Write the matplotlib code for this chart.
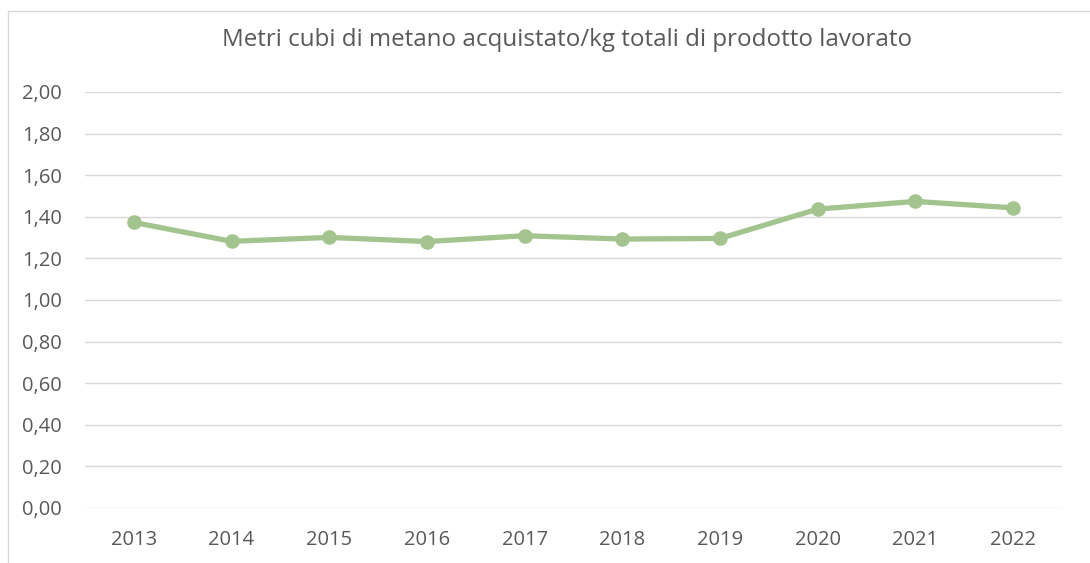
import matplotlib
matplotlib.use("Agg")
import matplotlib.pyplot as plt
from matplotlib.patches import Rectangle

years = ["2013", "2014", "2015", "2016", "2017", "2018", "2019", "2020", "2021", "2022"]
values = [1.373, 1.282, 1.301, 1.281, 1.309, 1.293, 1.296, 1.437, 1.474, 1.443]
yticks = [0.0, 0.2, 0.4, 0.6, 0.8, 1.0, 1.2, 1.4, 1.6, 1.8, 2.0]
title = "Metri cubi di metano acquistato/kg totali di prodotto lavorato"

plt.rcParams['font.family'] = ['Open Sans', 'DejaVu Sans']
W, H = 1090, 563
fig = plt.figure(figsize=(W / 100, H / 100), dpi=100)
fig.patch.set_facecolor("white")

# chart border (extends past right/bottom edges)
fig.add_artist(Rectangle((8 / W, -0.1), 1.2, 1.1 - 11 / H, transform=fig.transFigure,
                         fill=False, edgecolor="#D9D9D9", linewidth=1.0))

ax = fig.add_axes([85 / W, 1 - 508 / H, (1062 - 85) / W, (508 - 92) / H])
x = list(range(len(years)))
ax.plot(x, values, color="#A3C48F", linewidth=3.8, marker="o", markersize=9.5,
        solid_capstyle="round", zorder=3)
ax.set_xlim(-0.5, len(years) - 0.5)
ax.set_ylim(0, 2.0)
ax.set_yticks(yticks)
ax.set_yticklabels([f"{v:.2f}".replace(".", ",") for v in yticks])
ax.set_xticks(x)
ax.set_xticklabels(years)
ax.grid(axis="y", color="#D9D9D9", linewidth=1.0)
ax.set_axisbelow(True)
for s in ax.spines.values():
    s.set_visible(False)
ax.tick_params(length=0, colors="#595959", labelsize=14.5)
ax.tick_params(axis="y", pad=16.5)
ax.tick_params(axis="x", pad=16)

fig.text(567 / W, 1 - 40 / H, title, ha="center", va="center", fontsize=17.4, color="#595959")

fig.savefig("out.png", dpi=100)
